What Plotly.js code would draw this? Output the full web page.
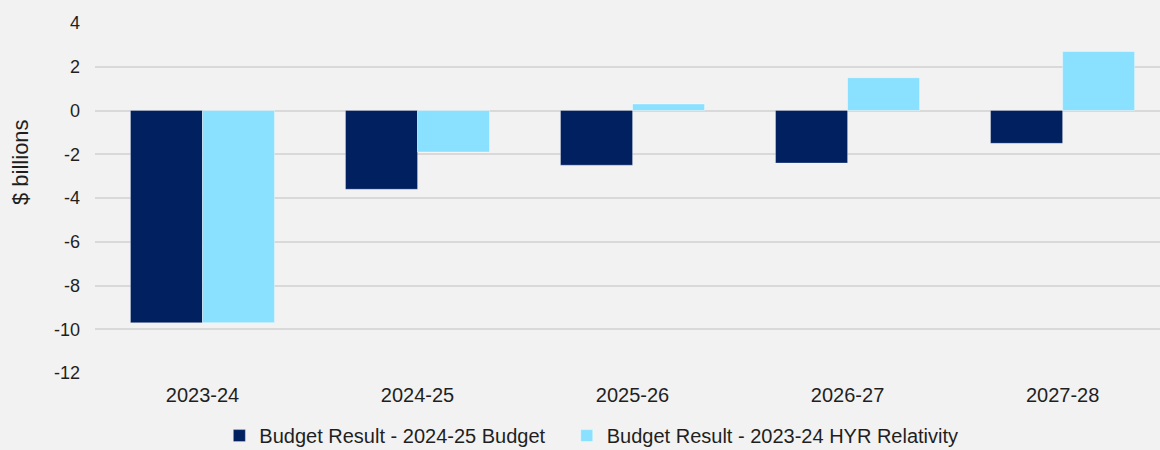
<!DOCTYPE html>
<html>
<head>
<meta charset="utf-8">
<script src="https://cdn.plot.ly/plotly-3.0.1.min.js"></script>
<style>html,body{margin:0;padding:0;background:#f2f2f2;}#chart{width:1160px;height:450px;}</style>
</head>
<body>
<div id="chart"></div>
<script>
const categories = ["2023-24", "2024-25", "2025-26", "2026-27", "2027-28"];
const budget2425 = [-9.7, -3.6, -2.5, -2.4, -1.5];
const hyrRelativity = [-9.7, -1.9, 0.3, 1.5, 2.7];
const seriesNames = ["Budget Result - 2024-25 Budget", "Budget Result - 2023-24 HYR Relativity"];
const yTicks = [4, 2, 0, -2, -4, -6, -8, -10, -12];

const pad = "\u00a0\u00a0\u00a0";
const traces = [
  {type: "bar", name: seriesNames[0] + pad, x: categories, y: budget2425,
   marker: {color: "#002060", line: {color: "rgba(255,255,255,0.3)", width: 1}}},
  {type: "bar", name: seriesNames[1], x: categories, y: hyrRelativity,
   marker: {color: "#8ae0ff", line: {color: "rgba(255,255,255,0.4)", width: 1}}}
];

const layout = {
  width: 1160, height: 450,
  paper_bgcolor: "#f2f2f2", plot_bgcolor: "#f2f2f2",
  margin: {l: 95, r: 0, t: 23, b: 77},
  barmode: "group", bargap: 0.33, bargroupgap: 0,
  font: {family: "Liberation Sans, Arial, sans-serif", color: "#1f1f1f"},
  xaxis: {type: "category", range: [-0.5, 4.453], showgrid: false, zeroline: false,
          showline: false, ticks: "", tickfont: {size: 20}, ticklabelstandoff: 8},
  yaxis: {range: [-12, 4], tickvals: yTicks, ticktext: yTicks.map(String),
          showgrid: true, gridcolor: "#d9d9d9", gridwidth: 2,
          zeroline: true, zerolinecolor: "#d9d9d9", zerolinewidth: 2,
          showline: false, ticks: "", tickfont: {size: 18}, ticklabelstandoff: 14},
  showlegend: true,
  legend: {orientation: "h", xref: "container", yref: "container", x: 0.1891, y: 0.032,
           xanchor: "left", yanchor: "middle", bgcolor: "rgba(0,0,0,0)",
           font: {family: "Liberation Sans, Arial, sans-serif", size: 20, color: "#1f1f1f"},
           traceorder: "normal"},
  annotations: [{text: "$ billions", textangle: -90, xref: "paper", yref: "paper",
                 x: (20 - 95) / 1065, y: (373 - 162) / 350, xanchor: "center", yanchor: "middle",
                 showarrow: false, font: {size: 22, color: "#1f1f1f"}}]
};

Plotly.newPlot("chart", traces, layout, {displayModeBar: false, staticPlot: true});
</script>
</body>
</html>
